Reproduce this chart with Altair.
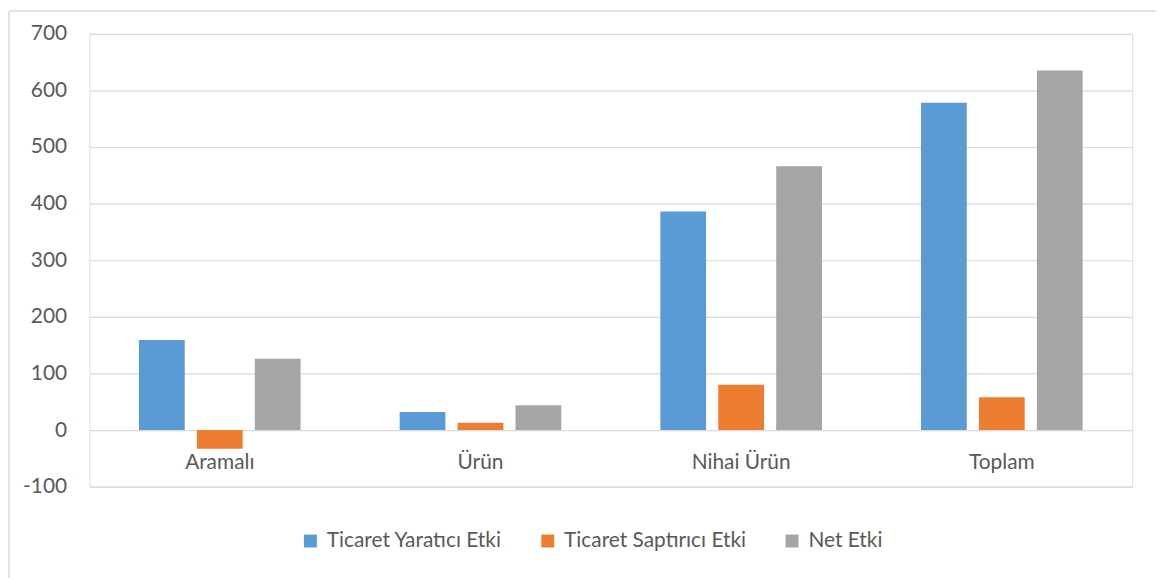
import altair as alt
import pandas as pd

categories = ["Aramalı", "Ürün", "Nihai Ürün", "Toplam"]
series = ["Ticaret Yaratıcı Etki", "Ticaret Saptırıcı Etki", "Net Etki"]
yaratici = [159, 32, 386, 578]
saptirici = [-33, 13, 80, 58]
net = [126, 44, 466, 635]
colors = ["#5B9BD5", "#ED7D31", "#A5A5A5"]
y_ticks = [-100, 0, 100, 200, 300, 400, 500, 600, 700]

rows = []
for i, c in enumerate(categories):
    for s, vals in zip(series, [yaratici, saptirici, net]):
        rows.append({"Kategori": c, "Seri": s, "Değer": vals[i]})
df = pd.DataFrame(rows)

FONT = "Lato"
TEXT = "#595959"
GRID = "#d9d9d9"
FS = 21

bars = alt.Chart(df).mark_bar().encode(
    x=alt.X(
        "Kategori:N",
        sort=categories,
        scale=alt.Scale(paddingInner=0.38, paddingOuter=0.19),
        axis=alt.Axis(
            title=None, orient="bottom", offset=-57, labelPadding=22,
            tickSize=0, domain=False, labelAngle=0, labelFontSize=FS,
            labelColor=TEXT, labelFont=FONT, grid=False,
        ),
    ),
    xOffset=alt.XOffset("Seri:N", sort=series,
                        scale=alt.Scale(paddingInner=0.21, paddingOuter=0)),
    y=alt.Y(
        "Değer:Q",
        scale=alt.Scale(domain=[-100, 700], nice=False),
        axis=alt.Axis(
            values=y_ticks, title=None, tickSize=0, domain=False,
            labelPadding=23, labelFontSize=FS, labelColor=TEXT, labelFont=FONT,
            labelExpr="replace(datum.label, '\u2212', '-')",
            gridColor=GRID, gridWidth=1.2,
        ),
    ),
    color=alt.Color(
        "Seri:N",
        sort=series,
        scale=alt.Scale(domain=series, range=colors),
        legend=alt.Legend(
            title=None, orient="none", direction="horizontal",
            legendX=212, legendY=500, symbolType="square", symbolSize=169,
            symbolStrokeWidth=0, labelFontSize=FS, labelColor=TEXT,
            labelFont=FONT, labelOffset=6, columnPadding=35, labelLimit=0,
        ),
    ),
)

frame = pd.DataFrame({"k": [0]})
left_border = alt.Chart(frame).mark_rule(color=GRID, strokeWidth=1.5).encode(
    x=alt.value(-81), y=alt.value(-23), y2=alt.value(570)
)
top_border = alt.Chart(frame).mark_rule(color=GRID, strokeWidth=1.5).encode(
    x=alt.value(-81), x2=alt.value(1080), y=alt.value(-23)
)

chart = alt.layer(bars, left_border, top_border).properties(
    width=1050,
    height=456,
    autosize=alt.AutoSizeParams(type="none"),
    padding={"left": 82, "top": 24, "right": 24, "bottom": 90},
).configure_view(stroke=None).configure(background="white")

chart.save("out.html", embed_options={"renderer": "svg", "actions": False})
